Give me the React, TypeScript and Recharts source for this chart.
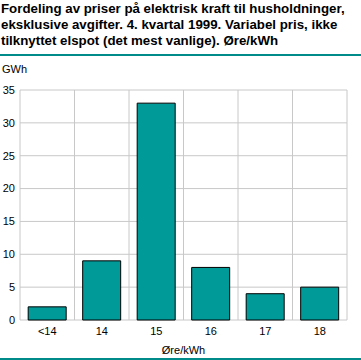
import React from "react";
import { BarChart, Bar, XAxis, YAxis, CartesianGrid } from "recharts";

const categories = ["<14", "14", "15", "16", "17", "18"];
const values = [2, 9, 33, 8, 4, 5];
const yTicks = [0, 5, 10, 15, 20, 25, 30, 35];
const titleLines = [
  "Fordeling av priser på elektrisk kraft til husholdninger,",
  "eksklusive avgifter. 4. kvartal 1999. Variabel pris, ikke",
  "tilknyttet elspot (det mest vanlige). Øre/kWh",
];
const yUnit = "GWh";
const xTitle = "Øre/kWh";

const data = categories.map((c, i) => ({ name: c, value: values[i] }));

const FONT = "'Liberation Sans', Arial, sans-serif";

export default function App() {
  const vGen = ({ offset }: any) => {
    const n = categories.length;
    const pts: number[] = [];
    for (let i = 0; i <= n; i++) pts.push(offset.left + (i * offset.width) / n);
    return pts;
  };
  return (
    <div
      style={{
        position: "absolute",
        left: 0,
        top: 0,
        width: 361,
        height: 360,
        background: "#fff",
        fontFamily: FONT,
        overflow: "hidden",
      }}
    >
      <div
        style={{
          position: "absolute",
          left: 1,
          top: 1,
          fontSize: 13.3,
          lineHeight: "16px",
          fontWeight: 700,
          color: "#000",
          whiteSpace: "nowrap",
        }}
      >
        {titleLines.map((l, i) => (
          <div key={i}>{l}</div>
        ))}
      </div>
      <div
        style={{
          position: "absolute",
          left: 0,
          top: 54,
          width: 361,
          height: 2,
          background: "#008b8b",
        }}
      />
      <div
        style={{
          position: "absolute",
          left: 2,
          top: 63,
          fontSize: 11,
          color: "#000",
        }}
      >
        {yUnit}
      </div>
      <div style={{ position: "absolute", left: 0, top: 0 }}>
        <BarChart
          width={361}
          height={360}
          data={data}
          margin={{ top: 90, right: 14, bottom: 0, left: 0 }}
          barCategoryGap="15%"
        >
          <CartesianGrid
            stroke="#c8c8c8"
            strokeWidth={1}
            verticalCoordinatesGenerator={vGen}
          />
          <XAxis
            dataKey="name"
            axisLine={false}
            tickLine={false}
            tickSize={0}
            tickMargin={7}
            tick={{ fill: "#000", fontSize: 11, fontFamily: FONT }}
            interval={0}
            label={{
              value: xTitle,
              position: "insideBottom",
              offset: 6,
              fill: "#000",
              fontSize: 11,
              fontFamily: FONT,
            }}
            height={40}
          />
          <YAxis
            width={20}
            domain={[0, 35]}
            ticks={yTicks}
            axisLine={false}
            tickLine={false}
            tickSize={0}
            tickMargin={5}
            tick={{ fill: "#000", fontSize: 11, fontFamily: FONT }}
            interval={0}
          />
          <Bar
            dataKey="value"
            fill="#009a99"
            stroke="#000"
            strokeWidth={1}
            isAnimationActive={false}
          />
        </BarChart>
      </div>
      <div
        style={{
          position: "absolute",
          left: 0,
          top: 358,
          width: 361,
          height: 2,
          background: "#008b8b",
        }}
      />
    </div>
  );
}
